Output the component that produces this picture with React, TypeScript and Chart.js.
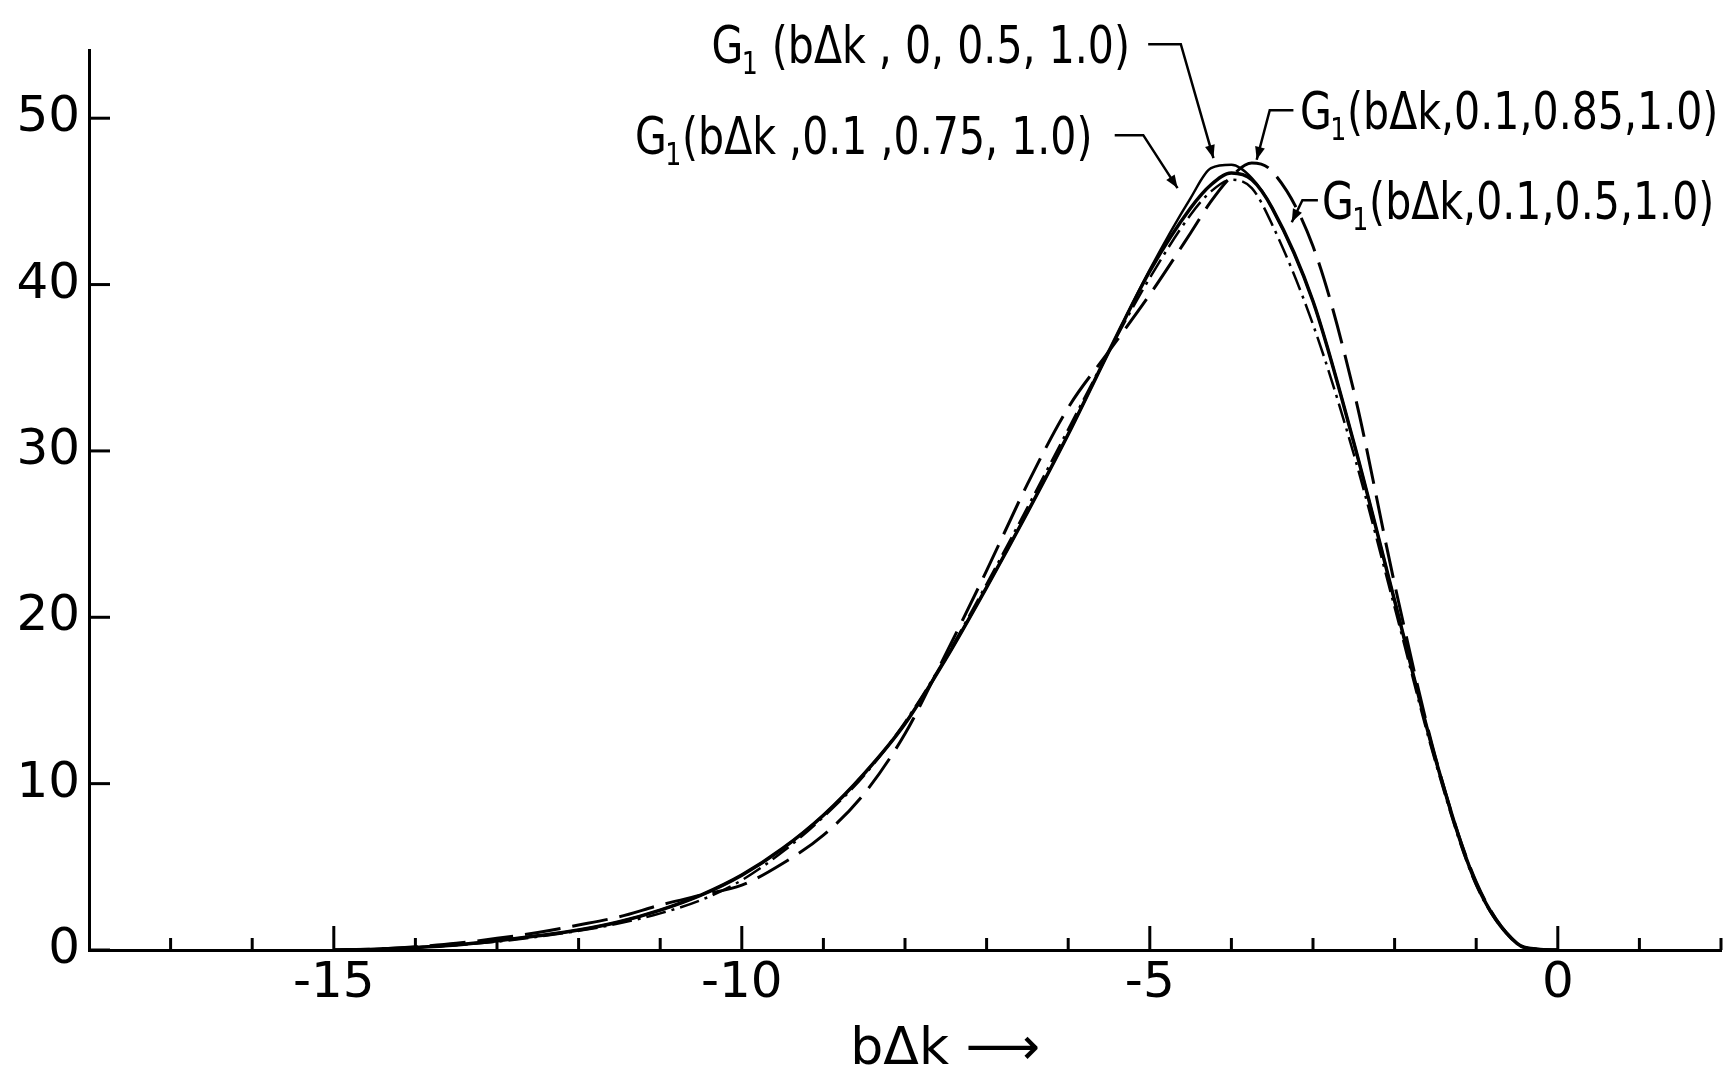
import React, { useEffect, useRef } from "react";
import { Chart, registerables } from "chart.js";

Chart.register(...registerables);

// Axis ticks
const X_TICKS = [-15, -10, -5, 0];
const X_MINOR_TICKS = [-17, -16, -15, -14, -13, -12, -11, -10, -9, -8, -7, -6, -5, -4, -3, -2, -1, 0, 1, 2];
const Y_TICKS = [0, 10, 20, 30, 40, 50];

// Sample positions in bΔk
const BDK = [
  -15, -14.5, -14, -13.5, -13, -12.5, -12, -11.5, -11, -10.5, -10, -9.5, -9, -8.5, -8, -7.5, -7,
  -6.5, -6, -5.5, -5, -4.5, -4.25, -4, -3.75, -3.5, -3, -2.5, -2, -1.5, -1, -0.5, -0.25, 0,
];

// G1(bΔk, 0, 0.5, 1.0)
const G1_0_05 = [
  0, 0.05, 0.15, 0.3, 0.55, 0.85, 1.2, 1.7, 2.4, 3.3, 4.5, 6.1, 8.1, 10.6, 13.6, 17.5, 21.8,
  26.3, 31, 36, 40.9, 45.2, 47.0, 47.2, 46.4, 44.6, 39, 30.5, 21, 11.5, 4, 0.4, 0.05, 0,
];

// G1(bΔk, 0.1, 0.5, 1.0)
const G1_01_05 = [
  0, 0.05, 0.15, 0.3, 0.55, 0.85, 1.2, 1.7, 2.4, 3.3, 4.5, 6.1, 8.1, 10.6, 13.6, 17.5, 21.8,
  26.3, 31, 36, 40.8, 44.6, 46.0, 46.7, 46.3, 44.6, 39, 30.5, 21, 11.5, 4, 0.4, 0.05, 0,
];

// G1(bΔk, 0.1, 0.75, 1.0)
const G1_01_075 = [
  0, 0.05, 0.15, 0.3, 0.5, 0.8, 1.15, 1.6, 2.2, 3.0, 4.2, 5.9, 8.0, 10.5, 13.7, 17.6, 22,
  26.6, 31.3, 36, 40.4, 44.2, 45.6, 46.3, 45.8, 43.6, 37.6, 29.8, 20.6, 11.3, 3.9, 0.4, 0.05, 0,
];

// G1(bΔk, 0.1, 0.85, 1.0)
const G1_01_085 = [
  0, 0.05, 0.2, 0.4, 0.7, 1.05, 1.5, 2.0, 2.7, 3.3, 3.9, 5.2, 6.9, 9.4, 13.0, 17.8, 22.8,
  28, 32.6, 36.0, 39.4, 43.1, 45.0, 46.5, 47.3, 46.8, 42.3, 33.6, 22, 11.6, 4.1, 0.4, 0.05, 0,
];

// Curve labels: parameter text after "G1", text anchor (left, middle) and leader path ending in an arrow
const LABEL_TEXTS = ["(bΔk , 0, 0.5, 1.0)", "(bΔk ,0.1 ,0.75, 1.0)", "(bΔk,0.1,0.85,1.0)", "(bΔk,0.1,0.5,1.0)"];
const LABEL_GAPS = [" ", "", "", ""];
const LABEL_ANCHORS = [
  [-10.37, 54.45],
  [-11.31, 48.98],
  [-3.16, 50.48],
  [-2.89, 45.07],
];
const LEADERS = [
  [[-5.02, 54.45], [-4.62, 54.45], [-4.22, 47.6]],
  [[-5.43, 48.98], [-5.08, 48.98], [-4.66, 45.8]],
  [[-3.24, 50.48], [-3.53, 50.48], [-3.69, 47.5]],
  [[-2.94, 45.07], [-3.13, 45.07], [-3.26, 43.75]],
];

const FONT = '"DejaVu Sans", sans-serif';

const toPoints = (ys: number[]) => BDK.map((x, i) => ({ x, y: ys[i] }));

const inkPlugin = {
  id: "inkPlugin",
  afterDraw(chart: any) {
    const { ctx } = chart;
    const xs = chart.scales.x;
    const ys = chart.scales.y;
    const px = (v: number) => xs.getPixelForValue(v);
    const py = (v: number) => ys.getPixelForValue(v);
    ctx.save();
    ctx.strokeStyle = "#000";
    ctx.fillStyle = "#000";
    ctx.lineCap = "butt";

    // inward tick marks
    ctx.lineWidth = 3;
    const base = py(0);
    X_MINOR_TICKS.forEach((v) => {
      const len = X_TICKS.includes(v) ? 24 : 12;
      ctx.beginPath();
      ctx.moveTo(px(v), base);
      ctx.lineTo(px(v), base - len);
      ctx.stroke();
    });
    const left = px(-18);
    Y_TICKS.forEach((v) => {
      ctx.beginPath();
      ctx.moveTo(left, py(v));
      ctx.lineTo(left + 21, py(v));
      ctx.stroke();
    });

    // leader lines with arrowheads
    ctx.lineWidth = 2.5;
    LEADERS.forEach((path) => {
      ctx.beginPath();
      path.forEach(([a, b], i) => {
        if (i === 0) ctx.moveTo(px(a), py(b));
        else ctx.lineTo(px(a), py(b));
      });
      ctx.stroke();
      const [ax, ay] = path[path.length - 2];
      const [bx, by] = path[path.length - 1];
      const x1 = px(ax), y1 = py(ay), x2 = px(bx), y2 = py(by);
      const ang = Math.atan2(y2 - y1, x2 - x1);
      const L = 13, W = 5;
      ctx.beginPath();
      ctx.moveTo(x2, y2);
      ctx.lineTo(x2 - L * Math.cos(ang) + W * Math.sin(ang), y2 - L * Math.sin(ang) - W * Math.cos(ang));
      ctx.lineTo(x2 - L * Math.cos(ang) - W * Math.sin(ang), y2 - L * Math.sin(ang) + W * Math.cos(ang));
      ctx.closePath();
      ctx.fill();
    });

    // curve labels G1(...)
    const size = 52;
    LABEL_TEXTS.forEach((txt, i) => {
      const [lx, ly] = LABEL_ANCHORS[i];
      ctx.save();
      ctx.translate(px(lx), py(ly));
      ctx.scale(0.79, 1);
      ctx.textBaseline = "alphabetic";
      ctx.textAlign = "left";
      const baseY = size * 0.36;
      ctx.font = `${size}px ${FONT}`;
      ctx.fillText("G", 0, baseY);
      let w = ctx.measureText("G").width;
      ctx.font = `${Math.round(size * 0.62)}px ${FONT}`;
      ctx.fillText("1", w - 2, baseY + size * 0.22);
      w += ctx.measureText("1").width - 1;
      ctx.font = `${size}px ${FONT}`;
      ctx.fillText(LABEL_GAPS[i] + txt, w, baseY);
      ctx.restore();
    });

    // axis title
    ctx.font = `52px ${FONT}`;
    ctx.textBaseline = "alphabetic";
    ctx.textAlign = "left";
    ctx.fillText("bΔk ⟶", px(-8.67), 1064);
    ctx.restore();
  },
};

export default function App() {
  const canvasRef = useRef<HTMLCanvasElement | null>(null);

  useEffect(() => {
    const canvas = canvasRef.current;
    if (!canvas) return;
    const line = (label: string, ys: number[], width: number, dash: number[]) => ({
      label,
      data: toPoints(ys),
      borderColor: "#000",
      backgroundColor: "#000",
      borderWidth: width,
      borderDash: dash,
      pointRadius: 0,
      fill: false,
      cubicInterpolationMode: "monotone" as const,
    });
    const chart = new Chart(canvas, {
      type: "line",
      data: {
        datasets: [
          line("G1(bΔk,0.1,0.85,1.0)", G1_01_085, 3, [36, 12]),
          line("G1(bΔk,0.1,0.75,1.0)", G1_01_075, 2.5, [20, 6, 3, 6]),
          line("G1(bΔk,0,0.5,1.0)", G1_0_05, 2.5, []),
          line("G1(bΔk,0.1,0.5,1.0)", G1_01_05, 3.5, []),
        ],
      },
      options: {
        responsive: false,
        animation: false,
        devicePixelRatio: 1,
        layout: { padding: { top: 50, right: 10, left: 0, bottom: 0 } },
        plugins: { legend: { display: false }, tooltip: { enabled: false } },
        scales: {
          x: {
            type: "linear",
            min: -18,
            max: 2,
            grid: { display: false, drawTicks: false },
            border: { display: true, color: "#000", width: 3 },
            ticks: { color: "#000", font: { family: FONT, size: 50 }, padding: 4, maxRotation: 0 },
            afterBuildTicks: (s: any) => {
              s.ticks = X_TICKS.map((value) => ({ value }));
            },
            afterFit: (s: any) => {
              s.height = 123;
            },
          },
          y: {
            type: "linear",
            min: 0,
            max: 54.1,
            grid: { display: false, drawTicks: false },
            border: { display: true, color: "#000", width: 3 },
            ticks: { color: "#000", font: { family: FONT, size: 50 }, padding: 9 },
            afterBuildTicks: (s: any) => {
              s.ticks = Y_TICKS.map((value) => ({ value }));
            },
            afterFit: (s: any) => {
              s.width = 89;
            },
          },
        },
      },
      plugins: [inkPlugin],
    });
    return () => chart.destroy();
  }, []);

  return (
    <div style={{ position: "fixed", left: 0, top: 0, width: 1731, height: 1073, background: "#fff" }}>
      <canvas ref={canvasRef} width={1731} height={1073} style={{ display: "block" }} />
    </div>
  );
}
